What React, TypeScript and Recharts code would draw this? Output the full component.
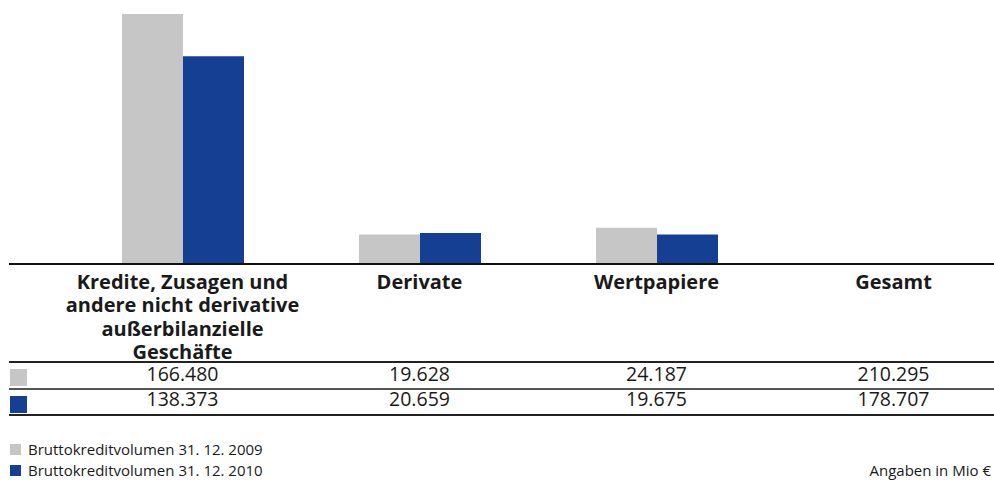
import { BarChart, Bar, XAxis, YAxis } from 'recharts';

// Kategorien (mehrzeilige Beschriftung)
const categories = [
  ['Kredite, Zusagen und', 'andere nicht derivative', 'außerbilanzielle', 'Geschäfte'],
  ['Derivate'],
  ['Wertpapiere'],
  ['Gesamt'],
];

// Werte in Mio €
const volume2009 = [166480, 19628, 24187, 210295];
const volume2010 = [138373, 20659, 19675, 178707];

// Gesamt steht nur in der Tabelle, ohne Balken
const showBar = [true, true, true, false];

const seriesNames = ['Bruttokreditvolumen 31. 12. 2009', 'Bruttokreditvolumen 31. 12. 2010'];
const unitNote = 'Angaben in Mio €';

const GREY = '#c5c6c5';
const BLUE = '#143f92';
const INK = '#1a1a1a';
const FONT = '"Open Sans", sans-serif';

const rows = categories.map((lines, i) => ({
  name: lines.join(' '),
  v2009: showBar[i] ? volume2009[i] : null,
  v2010: showBar[i] ? volume2010[i] : null,
}));

function fmt(n: number) {
  return String(n).replace(/\B(?=(\d{3})+(?!\d))/g, '.');
}

function CategoryTick(props: any) {
  const { x, y, payload } = props;
  const i = payload.index;
  const lines = categories[i];
  return (
    <g>
      <text textAnchor="middle" fontFamily={FONT} fontWeight={700} fontSize={20} fill={INK}>
        {lines.map((l, k) => (
          <tspan key={k} x={x} y={y + 24.5 + k * 23.5}>
            {l}
          </tspan>
        ))}
      </text>
      <text x={x} y={y + 117} textAnchor="middle" fontFamily={FONT} fontSize={19.5} fill={INK}>
        {fmt(volume2009[i])}
      </text>
      <text x={x} y={y + 142} textAnchor="middle" fontFamily={FONT} fontSize={19.5} fill={INK}>
        {fmt(volume2010[i])}
      </text>
    </g>
  );
}

const hline = (top: number, height: number, color: string) => (
  <div
    style={{
      position: 'absolute',
      left: 9,
      right: 0,
      top,
      height,
      background: color,
    }}
  />
);

const square = (top: number, left: number, size: number, color: string) => (
  <div style={{ position: 'absolute', left, top, width: size, height: size, background: color }} />
);

const note = { position: 'absolute' as const, fontSize: 15, lineHeight: '20px', whiteSpace: 'nowrap' as const };

export default function App() {
  return (
    <div
      style={{
        position: 'relative',
        width: 994,
        height: 481,
        overflow: 'hidden',
        fontFamily: FONT,
        color: INK,
        background: '#fff',
      }}
    >
      <style>{'body{margin:0}'}</style>
      <BarChart
        width={1012}
        height={414}
        data={rows}
        margin={{ top: 14, right: 0, left: 64, bottom: 0 }}
        barGap={0}
        barSize={61}
      >
        <YAxis hide domain={[0, 'dataMax']} />
        <XAxis
          dataKey="name"
          axisLine={false}
          tickLine={false}
          tickSize={0}
          tickMargin={0}
          interval={0}
          height={150}
          tick={<CategoryTick />}
        />
        <Bar dataKey="v2009" name={seriesNames[0]} fill={GREY} isAnimationActive={false} />
        <Bar dataKey="v2010" name={seriesNames[1]} fill={BLUE} isAnimationActive={false} />
      </BarChart>

      {hline(263, 2, '#111')}
      {hline(361, 2, '#222')}
      {hline(387.5, 2, '#555')}
      {hline(414, 2, '#222')}

      {square(369, 10, 17, GREY)}
      {square(396, 10, 17, BLUE)}

      {square(444, 10, 11, GREY)}
      {square(465, 10, 11, BLUE)}
      <div style={{ ...note, left: 28, top: 439 }}>{seriesNames[0]}</div>
      <div style={{ ...note, left: 28, top: 460 }}>{seriesNames[1]}</div>
      <div style={{ ...note, right: 3, top: 460 }}>{unitNote}</div>
    </div>
  );
}
